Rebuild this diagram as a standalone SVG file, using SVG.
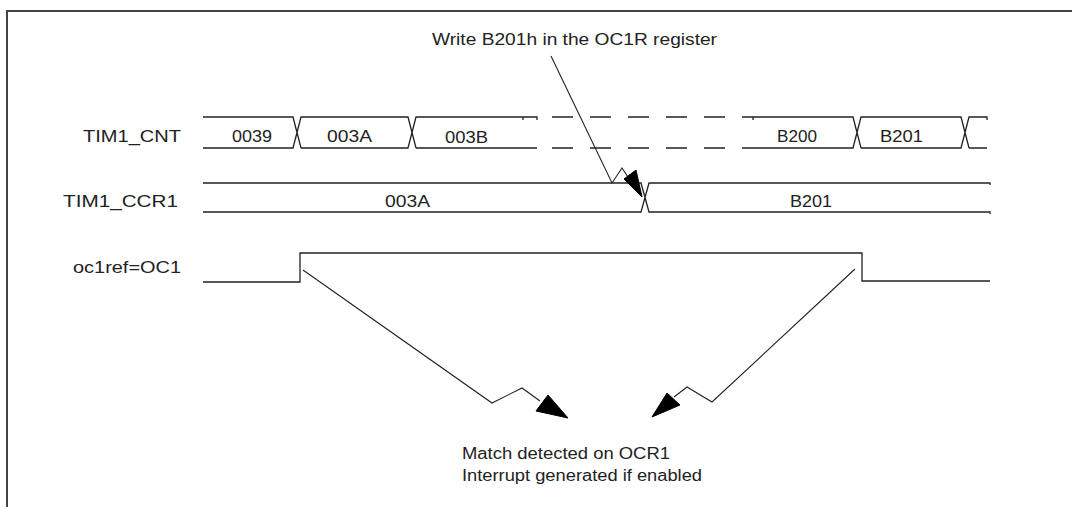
<svg xmlns="http://www.w3.org/2000/svg" width="1072" height="507" viewBox="0 0 1072 507">
<style>
.t{font-family:"Liberation Sans",Arial,sans-serif;font-size:16px;fill:#222}
.w{fill:none;stroke:#222;stroke-width:1.3}
.d{fill:none;stroke:#222;stroke-width:1.3;stroke-dasharray:21 17}
.c{fill:none;stroke:#222;stroke-width:1.1}
.h{fill:#000;stroke:#000;stroke-width:1}
.f{fill:none;stroke:#444;stroke-width:2}
</style>
<rect width="1072" height="507" fill="#fff"/>
<g id="frame"><path class="f" d="M7,507 V11 H1072"/></g>

<g id="tim1_cnt">
<text class="t" x="181" y="142" text-anchor="end" textLength="98" lengthAdjust="spacingAndGlyphs">TIM1_CNT</text>
<path class="w" d="M203,117 H293 L301,148 M203,148 H293 L301,117 H408 L416,148 M301,148 H408 L416,117 H537 V120 M416,148 H537"/>
<path class="w" d="M523,117 V120"/>
<path class="d" d="M552,117 H742 M552,148 H742"/>
<path class="w" d="M742,117 H853 L861,148 M742,148 H853 L861,117 H961 L969,148 M861,148 H961 L969,117 H987 V120 M969,148 H987"/>
<path class="w" d="M753,117 V120"/>
<text class="t" x="232" y="142" textLength="40" lengthAdjust="spacingAndGlyphs">0039</text>
<text class="t" x="327" y="142" textLength="45" lengthAdjust="spacingAndGlyphs">003A</text>
<text class="t" x="445" y="143" textLength="43" lengthAdjust="spacingAndGlyphs">003B</text>
<text class="t" x="777" y="142" textLength="40" lengthAdjust="spacingAndGlyphs">B200</text>
<text class="t" x="880" y="142" textLength="43" lengthAdjust="spacingAndGlyphs">B201</text>
</g>

<g id="tim1_ccr1">
<text class="t" x="178" y="207" text-anchor="end" textLength="115" lengthAdjust="spacingAndGlyphs">TIM1_CCR1</text>
<path class="w" d="M203,183 H641 L649,212 H990 V214 M203,212 H641 L649,183 H990 V185"/>
<text class="t" x="385" y="207" textLength="45" lengthAdjust="spacingAndGlyphs">003A</text>
<text class="t" x="790" y="207" textLength="42" lengthAdjust="spacingAndGlyphs">B201</text>
</g>

<g id="oc1ref">
<text class="t" x="181" y="273" text-anchor="end" textLength="108" lengthAdjust="spacingAndGlyphs">oc1ref=OC1</text>
<path class="w" d="M203,282 H300 V253 H862 V281 H990"/>
</g>

<g id="write_label">
<text class="t" x="432" y="45" textLength="285" lengthAdjust="spacingAndGlyphs">Write B201h in the OC1R register</text>
</g>

<g id="match_label">
<text class="t" x="462" y="459" textLength="208" lengthAdjust="spacingAndGlyphs">Match detected on OCR1</text>
<text class="t" x="462" y="481" textLength="240" lengthAdjust="spacingAndGlyphs">Interrupt generated if enabled</text>
</g>

<g id="connectors">
<path class="c" d="M551,56 L612,183 L622,168 L630,180"/>
<polygon class="h" points="642,197 624,179 636,170"/>
<path class="c" d="M303,270 L492,403 L522,388 L540,401"/>
<polygon class="h" points="568,418 536,411 548,395"/>
<path class="c" d="M855,269 L712,402 L687,387 L674,397"/>
<polygon class="h" points="652,417 667,393 680,405"/>
</g>
</svg>
